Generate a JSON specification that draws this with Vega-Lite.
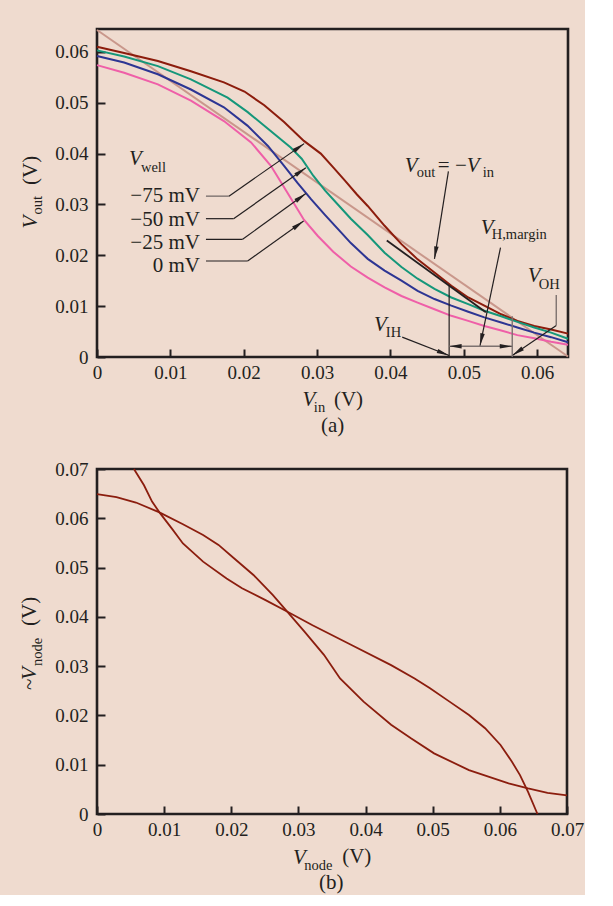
{
  "$schema": "https://vega.github.io/schema/vega-lite/v6.json",
  "background": "#efdbcf",
  "padding": {"left": 17, "top": 24, "right": 0, "bottom": 0},
  "spacing": 112,
  "bounds": "flush",
  "config": {
    "font": "Liberation Serif",
    "view": {"stroke": "#231f20", "strokeWidth": 2.6},
    "axis": {"domain": false, "grid": false, "ticks": true, "tickSize": -8, "tickWidth": 2, "tickColor": "#231f20", "labelFont": "Liberation Serif", "labelFontSize": 19, "labelColor": "#231f20", "labelFlush": false, "labelOverlap": false, "labelBound": false, "title": null, "format": ".2~f"},
    "axisX": {"labelPadding": 14},
    "axisY": {"labelPadding": 17}
  },
  "vconcat": [
    {
      "width": 471,
      "height": 328,
      "encoding": {
        "x": {"field": "x", "type": "quantitative", "scale": {"domain": [0, 0.0642], "nice": false, "zero": false}, "axis": {"values": [0, 0.01, 0.02, 0.03, 0.04, 0.05, 0.06]}},
        "y": {"field": "y", "type": "quantitative", "scale": {"domain": [0, 0.0645], "nice": false, "zero": false}, "axis": {"values": [0, 0.01, 0.02, 0.03, 0.04, 0.05, 0.06]}}
      },
      "layer": [
        {
          "data": {"values": [{"x": 0, "y": 0.0643}, {"x": 0.0642, "y": 0.0001}]},
          "mark": {"type": "line", "color": "#c9978b", "strokeWidth": 2}
        },
        {
          "data": {"values": [
            {"x": 0, "y": 0.0610, "well": "-75 mV"}, {"x": 0.0037, "y": 0.0598, "well": "-75 mV"}, {"x": 0.0083, "y": 0.0582, "well": "-75 mV"}, {"x": 0.0128, "y": 0.0562, "well": "-75 mV"}, {"x": 0.0173, "y": 0.0540, "well": "-75 mV"}, {"x": 0.0201, "y": 0.0522, "well": "-75 mV"}, {"x": 0.0228, "y": 0.0495, "well": "-75 mV"}, {"x": 0.0255, "y": 0.0462, "well": "-75 mV"}, {"x": 0.0282, "y": 0.0425, "well": "-75 mV"}, {"x": 0.0305, "y": 0.0400, "well": "-75 mV"}, {"x": 0.0322, "y": 0.0373, "well": "-75 mV"}, {"x": 0.0338, "y": 0.0347, "well": "-75 mV"}, {"x": 0.0354, "y": 0.0320, "well": "-75 mV"}, {"x": 0.0369, "y": 0.0297, "well": "-75 mV"}, {"x": 0.0392, "y": 0.0258, "well": "-75 mV"}, {"x": 0.0415, "y": 0.0222, "well": "-75 mV"}, {"x": 0.0437, "y": 0.0192, "well": "-75 mV"}, {"x": 0.0460, "y": 0.0166, "well": "-75 mV"}, {"x": 0.0483, "y": 0.0140, "well": "-75 mV"}, {"x": 0.0506, "y": 0.0117, "well": "-75 mV"}, {"x": 0.0528, "y": 0.0101, "well": "-75 mV"}, {"x": 0.0551, "y": 0.0084, "well": "-75 mV"}, {"x": 0.0573, "y": 0.0071, "well": "-75 mV"}, {"x": 0.0596, "y": 0.0061, "well": "-75 mV"}, {"x": 0.0619, "y": 0.0054, "well": "-75 mV"}, {"x": 0.0642, "y": 0.0046, "well": "-75 mV"},
            {"x": 0, "y": 0.0603, "well": "-50 mV"}, {"x": 0.0037, "y": 0.0591, "well": "-50 mV"}, {"x": 0.0083, "y": 0.0572, "well": "-50 mV"}, {"x": 0.0128, "y": 0.0546, "well": "-50 mV"}, {"x": 0.0178, "y": 0.0510, "well": "-50 mV"}, {"x": 0.0205, "y": 0.0482, "well": "-50 mV"}, {"x": 0.0233, "y": 0.0449, "well": "-50 mV"}, {"x": 0.0264, "y": 0.0412, "well": "-50 mV"}, {"x": 0.0279, "y": 0.0390, "well": "-50 mV"}, {"x": 0.0295, "y": 0.0356, "well": "-50 mV"}, {"x": 0.0311, "y": 0.0327, "well": "-50 mV"}, {"x": 0.0332, "y": 0.0294, "well": "-50 mV"}, {"x": 0.0346, "y": 0.0272, "well": "-50 mV"}, {"x": 0.0369, "y": 0.0240, "well": "-50 mV"}, {"x": 0.0392, "y": 0.0205, "well": "-50 mV"}, {"x": 0.0415, "y": 0.0177, "well": "-50 mV"}, {"x": 0.0437, "y": 0.0154, "well": "-50 mV"}, {"x": 0.0460, "y": 0.0134, "well": "-50 mV"}, {"x": 0.0483, "y": 0.0117, "well": "-50 mV"}, {"x": 0.0506, "y": 0.0104, "well": "-50 mV"}, {"x": 0.0528, "y": 0.0091, "well": "-50 mV"}, {"x": 0.0551, "y": 0.0080, "well": "-50 mV"}, {"x": 0.0573, "y": 0.0069, "well": "-50 mV"}, {"x": 0.0596, "y": 0.0058, "well": "-50 mV"}, {"x": 0.0619, "y": 0.0048, "well": "-50 mV"}, {"x": 0.0642, "y": 0.0036, "well": "-50 mV"},
            {"x": 0, "y": 0.0592, "well": "-25 mV"}, {"x": 0.0037, "y": 0.0579, "well": "-25 mV"}, {"x": 0.0083, "y": 0.0556, "well": "-25 mV"}, {"x": 0.0128, "y": 0.0526, "well": "-25 mV"}, {"x": 0.0173, "y": 0.0491, "well": "-25 mV"}, {"x": 0.0205, "y": 0.0455, "well": "-25 mV"}, {"x": 0.0233, "y": 0.0415, "well": "-25 mV"}, {"x": 0.0255, "y": 0.0376, "well": "-25 mV"}, {"x": 0.0273, "y": 0.0343, "well": "-25 mV"}, {"x": 0.0292, "y": 0.0310, "well": "-25 mV"}, {"x": 0.0311, "y": 0.0279, "well": "-25 mV"}, {"x": 0.0332, "y": 0.0246, "well": "-25 mV"}, {"x": 0.0346, "y": 0.0224, "well": "-25 mV"}, {"x": 0.0369, "y": 0.0193, "well": "-25 mV"}, {"x": 0.0392, "y": 0.0170, "well": "-25 mV"}, {"x": 0.0415, "y": 0.0150, "well": "-25 mV"}, {"x": 0.0437, "y": 0.0130, "well": "-25 mV"}, {"x": 0.0460, "y": 0.0114, "well": "-25 mV"}, {"x": 0.0483, "y": 0.0101, "well": "-25 mV"}, {"x": 0.0506, "y": 0.0089, "well": "-25 mV"}, {"x": 0.0528, "y": 0.0078, "well": "-25 mV"}, {"x": 0.0551, "y": 0.0068, "well": "-25 mV"}, {"x": 0.0573, "y": 0.0058, "well": "-25 mV"}, {"x": 0.0596, "y": 0.0048, "well": "-25 mV"}, {"x": 0.0619, "y": 0.0039, "well": "-25 mV"}, {"x": 0.0642, "y": 0.0029, "well": "-25 mV"},
            {"x": 0, "y": 0.0574, "well": "0 mV"}, {"x": 0.0037, "y": 0.0559, "well": "0 mV"}, {"x": 0.0083, "y": 0.0536, "well": "0 mV"}, {"x": 0.0128, "y": 0.0504, "well": "0 mV"}, {"x": 0.0173, "y": 0.0464, "well": "0 mV"}, {"x": 0.0210, "y": 0.0422, "well": "0 mV"}, {"x": 0.0237, "y": 0.0376, "well": "0 mV"}, {"x": 0.0260, "y": 0.0322, "well": "0 mV"}, {"x": 0.0282, "y": 0.0270, "well": "0 mV"}, {"x": 0.0301, "y": 0.0238, "well": "0 mV"}, {"x": 0.0322, "y": 0.0207, "well": "0 mV"}, {"x": 0.0346, "y": 0.0178, "well": "0 mV"}, {"x": 0.0369, "y": 0.0156, "well": "0 mV"}, {"x": 0.0392, "y": 0.0137, "well": "0 mV"}, {"x": 0.0415, "y": 0.0120, "well": "0 mV"}, {"x": 0.0437, "y": 0.0107, "well": "0 mV"}, {"x": 0.0460, "y": 0.0094, "well": "0 mV"}, {"x": 0.0483, "y": 0.0081, "well": "0 mV"}, {"x": 0.0506, "y": 0.0071, "well": "0 mV"}, {"x": 0.0528, "y": 0.0061, "well": "0 mV"}, {"x": 0.0551, "y": 0.0052, "well": "0 mV"}, {"x": 0.0573, "y": 0.0043, "well": "0 mV"}, {"x": 0.0596, "y": 0.0037, "well": "0 mV"}, {"x": 0.0619, "y": 0.0030, "well": "0 mV"}, {"x": 0.0642, "y": 0.0024, "well": "0 mV"}
          ]},
          "mark": {"type": "line", "strokeWidth": 2},
          "encoding": {"color": {"field": "well", "type": "nominal", "scale": {"domain": ["-75 mV", "-50 mV", "-25 mV", "0 mV"], "range": ["#8c1c0c", "#15977a", "#2d3593", "#ef5fa8"]}, "legend": null}}
        },
        {
          "data": {"values": [{"x": 0.0395, "y": 0.0229, "x2": 0.0530, "y2": 0.0088}]},
          "mark": {"type": "rule", "color": "#231f20", "strokeWidth": 1.8},
          "encoding": {"x2": {"field": "x2"}, "y2": {"field": "y2"}}
        },
        {
          "data": {"values": [
            {"x": 0.01798, "y": 0.03163, "x2": 0.02824, "y2": 0.04196},
            {"x": 0.01485, "y": 0.02720, "x2": 0.01862, "y2": 0.02720},
            {"x": 0.01862, "y": 0.02720, "x2": 0.02847, "y2": 0.03720},
            {"x": 0.01485, "y": 0.02314, "x2": 0.01985, "y2": 0.02314},
            {"x": 0.01985, "y": 0.02314, "x2": 0.02847, "y2": 0.03216},
            {"x": 0.01485, "y": 0.01888, "x2": 0.02053, "y2": 0.01888},
            {"x": 0.02053, "y": 0.01888, "x2": 0.02816, "y2": 0.02673},
            {"x": 0.0479, "y": 0.0365, "x2": 0.0460, "y2": 0.0193},
            {"x": 0.0550, "y": 0.0215, "x2": 0.0522, "y2": 0.0022},
            {"x": 0.0416, "y": 0.0039, "x2": 0.0480, "y2": 0.0003},
            {"x": 0.0626, "y": 0.0062, "x2": 0.0566, "y2": 0.0003},
            {"x": 0.0480, "y": 0, "x2": 0.0480, "y2": 0.0140}
          ]},
          "mark": {"type": "rule", "color": "#231f20", "strokeWidth": 1.2},
          "encoding": {"x2": {"field": "x2"}, "y2": {"field": "y2"}}
        },
        {
          "data": {"values": [
            {"x": 0.01485, "y": 0.03163, "x2": 0.01798, "y2": 0.03163},
            {"x": 0.0566, "y": 0, "x2": 0.0566, "y2": 0.0080},
            {"x": 0.0626, "y": 0.0122, "x2": 0.0626, "y2": 0.0062},
            {"x": 0.0480, "y": 0.0021, "x2": 0.0566, "y2": 0.0021}
          ]},
          "mark": {"type": "rule", "color": "#7d7270", "strokeWidth": 1.4},
          "encoding": {"x2": {"field": "x2"}, "y2": {"field": "y2"}}
        },
        {
          "data": {"values": [
            {"x": 0.02824, "y": 0.04196, "dir": 55},
            {"x": 0.02847, "y": 0.03720, "dir": 55},
            {"x": 0.02847, "y": 0.03216, "dir": 54},
            {"x": 0.02816, "y": 0.02673, "dir": 54.5},
            {"x": 0.0460, "y": 0.0193, "dir": 189},
            {"x": 0.0522, "y": 0.0022, "dir": 192},
            {"x": 0.0480, "y": 0.0003, "dir": 111},
            {"x": 0.0566, "y": 0.0003, "dir": 236},
            {"x": 0.0480, "y": 0.0021, "dir": 270},
            {"x": 0.0566, "y": 0.0021, "dir": 90}
          ]},
          "mark": {"type": "point", "shape": "M0,0 L0.45,2.5 L-0.45,2.5 Z", "filled": true, "color": "#231f20", "size": 100, "opacity": 1, "strokeWidth": 0},
          "encoding": {"angle": {"field": "dir", "type": "quantitative", "scale": null}}
        },
        {
          "data": {"values": [
            {"x": 0.00436, "y": 0.03784, "text": "V"}, {"x": 0.04196, "y": 0.03647, "text": "V"}, {"x": 0.05041, "y": 0.03647, "text": "V"}, {"x": 0.05232, "y": 0.02412, "text": "V"}, {"x": 0.05872, "y": 0.01471, "text": "V"}, {"x": 0.03774, "y": 0.00520, "text": "V"}, {"x": 0.02802, "y": -0.00961, "text": "V"}
          ]},
          "mark": {"type": "text", "fontStyle": "italic", "fontSize": 21, "align": "left", "baseline": "alphabetic", "color": "#231f20"},
          "encoding": {"text": {"field": "text"}}
        },
        {
          "data": {"values": [
            {"x": 0.00599, "y": 0.03647, "text": "well"}, {"x": 0.04360, "y": 0.03549, "text": "out"}, {"x": 0.05259, "y": 0.03549, "text": "in"}, {"x": 0.05381, "y": 0.02314, "text": "H,margin"}, {"x": 0.06022, "y": 0.01333, "text": "OH"}, {"x": 0.03937, "y": 0.00392, "text": "IH"}, {"x": 0.02956, "y": -0.01078, "text": "in"}
          ]},
          "mark": {"type": "text", "fontSize": 14.5, "align": "left", "baseline": "alphabetic", "color": "#231f20"},
          "encoding": {"text": {"field": "text"}}
        },
        {
          "data": {"values": [
            {"x": 0.04646, "y": 0.03647, "text": "= −"}, {"x": 0.03229, "y": -0.00961, "text": "(V)"}, {"x": 0.03052, "y": -0.01480, "text": "(a)"}
          ]},
          "mark": {"type": "text", "fontSize": 21, "align": "left", "baseline": "alphabetic", "color": "#231f20"},
          "encoding": {"text": {"field": "text"}}
        },
        {
          "data": {"values": [
            {"x": 0.01403, "y": 0.03039, "text": "−75 mV"}, {"x": 0.01403, "y": 0.02578, "text": "−50 mV"}, {"x": 0.01403, "y": 0.02118, "text": "−25 mV"}, {"x": 0.01403, "y": 0.01667, "text": "0 mV"}
          ]},
          "mark": {"type": "text", "fontSize": 21, "align": "right", "baseline": "alphabetic", "color": "#231f20"},
          "encoding": {"text": {"field": "text"}}
        },
        {
          "data": {"values": [{"x": -0.00817, "y": 0.02529, "text": "V"}]},
          "mark": {"type": "text", "fontStyle": "italic", "fontSize": 21, "angle": 270, "align": "left", "baseline": "alphabetic", "color": "#231f20"},
          "encoding": {"text": {"field": "text"}}
        },
        {
          "data": {"values": [{"x": -0.00749, "y": 0.02804, "text": "out"}]},
          "mark": {"type": "text", "fontSize": 14.5, "angle": 270, "align": "left", "baseline": "alphabetic", "color": "#231f20"},
          "encoding": {"text": {"field": "text"}}
        },
        {
          "data": {"values": [{"x": -0.00817, "y": 0.03382, "text": "(V)"}]},
          "mark": {"type": "text", "fontSize": 21, "angle": 270, "align": "left", "baseline": "alphabetic", "color": "#231f20"},
          "encoding": {"text": {"field": "text"}}
        }
      ]
    },
    {
      "width": 470,
      "height": 345,
      "encoding": {
        "x": {"field": "x", "type": "quantitative", "scale": {"domain": [0, 0.07], "nice": false, "zero": false}, "axis": {"values": [0, 0.01, 0.02, 0.03, 0.04, 0.05, 0.06, 0.07]}},
        "y": {"field": "y", "type": "quantitative", "scale": {"domain": [0, 0.07], "nice": false, "zero": false}, "axis": {"values": [0, 0.01, 0.02, 0.03, 0.04, 0.05, 0.06, 0.07]}}
      },
      "layer": [
        {
          "data": {"values": [
            {"x": 0, "y": 0.0649, "curve": "A"}, {"x": 0.0029, "y": 0.0643, "curve": "A"}, {"x": 0.0058, "y": 0.0632, "curve": "A"}, {"x": 0.0093, "y": 0.0612, "curve": "A"}, {"x": 0.0128, "y": 0.0588, "curve": "A"}, {"x": 0.0158, "y": 0.0566, "curve": "A"}, {"x": 0.0181, "y": 0.0546, "curve": "A"}, {"x": 0.0204, "y": 0.0519, "curve": "A"}, {"x": 0.0233, "y": 0.0485, "curve": "A"}, {"x": 0.0262, "y": 0.0444, "curve": "A"}, {"x": 0.0283, "y": 0.0411, "curve": "A"}, {"x": 0.0309, "y": 0.0370, "curve": "A"}, {"x": 0.0338, "y": 0.0323, "curve": "A"}, {"x": 0.0362, "y": 0.0275, "curve": "A"}, {"x": 0.0397, "y": 0.0228, "curve": "A"}, {"x": 0.0438, "y": 0.0181, "curve": "A"}, {"x": 0.0467, "y": 0.0154, "curve": "A"}, {"x": 0.0502, "y": 0.0123, "curve": "A"}, {"x": 0.0554, "y": 0.0089, "curve": "A"}, {"x": 0.0613, "y": 0.0062, "curve": "A"}, {"x": 0.0642, "y": 0.0052, "curve": "A"}, {"x": 0.0671, "y": 0.0043, "curve": "A"}, {"x": 0.0700, "y": 0.0038, "curve": "A"},
            {"x": 0.0055, "y": 0.0700, "curve": "B"}, {"x": 0.0070, "y": 0.0667, "curve": "B"}, {"x": 0.0082, "y": 0.0634, "curve": "B"}, {"x": 0.0093, "y": 0.0612, "curve": "B"}, {"x": 0.0111, "y": 0.0580, "curve": "B"}, {"x": 0.0128, "y": 0.0549, "curve": "B"}, {"x": 0.0158, "y": 0.0512, "curve": "B"}, {"x": 0.0193, "y": 0.0478, "curve": "B"}, {"x": 0.0216, "y": 0.0458, "curve": "B"}, {"x": 0.0251, "y": 0.0434, "curve": "B"}, {"x": 0.0283, "y": 0.0411, "curve": "B"}, {"x": 0.0321, "y": 0.0383, "curve": "B"}, {"x": 0.0379, "y": 0.0343, "curve": "B"}, {"x": 0.0438, "y": 0.0302, "curve": "B"}, {"x": 0.0473, "y": 0.0275, "curve": "B"}, {"x": 0.0496, "y": 0.0255, "curve": "B"}, {"x": 0.0525, "y": 0.0228, "curve": "B"}, {"x": 0.0554, "y": 0.0201, "curve": "B"}, {"x": 0.0578, "y": 0.0174, "curve": "B"}, {"x": 0.0601, "y": 0.0140, "curve": "B"}, {"x": 0.0618, "y": 0.0106, "curve": "B"}, {"x": 0.0630, "y": 0.0079, "curve": "B"}, {"x": 0.0642, "y": 0.0045, "curve": "B"}, {"x": 0.0656, "y": 0, "curve": "B"}
          ]},
          "mark": {"type": "line", "color": "#8b1d0e", "strokeWidth": 1.8},
          "encoding": {"detail": {"field": "curve", "type": "nominal"}}
        },
        {
          "data": {"values": [{"x": 0.02921, "y": -0.01014, "text": "V"}]},
          "mark": {"type": "text", "fontStyle": "italic", "fontSize": 21, "align": "left", "baseline": "alphabetic", "color": "#231f20"},
          "encoding": {"text": {"field": "text"}}
        },
        {
          "data": {"values": [{"x": 0.03085, "y": -0.01136, "text": "node"}]},
          "mark": {"type": "text", "fontSize": 14.5, "align": "left", "baseline": "alphabetic", "color": "#231f20"},
          "encoding": {"text": {"field": "text"}}
        },
        {
          "data": {"values": [{"x": 0.03651, "y": -0.00994, "text": "(V)"}, {"x": 0.03308, "y": -0.01522, "text": "(b)"}]},
          "mark": {"type": "text", "fontSize": 21, "align": "left", "baseline": "alphabetic", "color": "#231f20"},
          "encoding": {"text": {"field": "text"}}
        },
        {
          "data": {"values": [{"x": -0.00909, "y": 0.02719, "text": "V"}]},
          "mark": {"type": "text", "fontStyle": "italic", "fontSize": 21, "angle": 270, "align": "left", "baseline": "alphabetic", "color": "#231f20"},
          "encoding": {"text": {"field": "text"}}
        },
        {
          "data": {"values": [{"x": -0.0082, "y": 0.03003, "text": "node"}]},
          "mark": {"type": "text", "fontSize": 14.5, "angle": 270, "align": "left", "baseline": "alphabetic", "color": "#231f20"},
          "encoding": {"text": {"field": "text"}}
        },
        {
          "data": {"values": [{"x": -0.00909, "y": 0.02516, "text": "~"}, {"x": -0.00909, "y": 0.03814, "text": "(V)"}]},
          "mark": {"type": "text", "fontSize": 21, "angle": 270, "align": "left", "baseline": "alphabetic", "color": "#231f20"},
          "encoding": {"text": {"field": "text"}}
        }
      ]
    }
  ]
}
